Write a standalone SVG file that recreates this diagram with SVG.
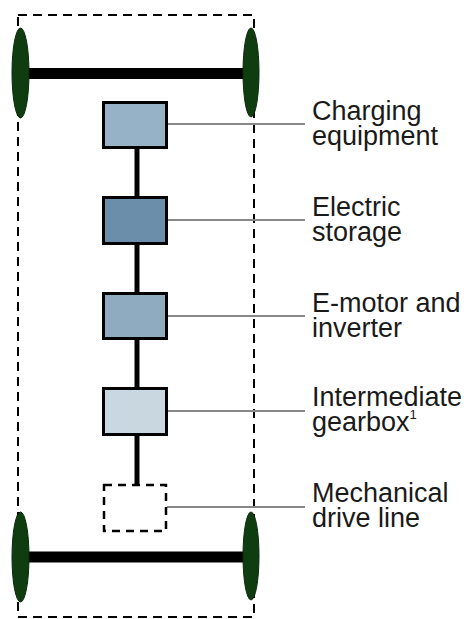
<svg xmlns="http://www.w3.org/2000/svg" width="468" height="619" viewBox="0 0 468 619">
<style>
.frame{fill:none;stroke:#000;stroke-width:2;stroke-dasharray:9,6}
.wheel{fill:#0f3d10;stroke:#0a2a0a;stroke-width:1}
.axle{stroke:#000;stroke-width:11}
.box{stroke:#000;stroke-width:3}
.dbox{fill:#fff;stroke:#000;stroke-width:2.5;stroke-dasharray:8,6}
.shaft{stroke:#000;stroke-width:5}
.leader{stroke:#888;stroke-width:2}
.lbl{font-family:"Liberation Sans",Arial,sans-serif;font-size:27px;fill:#1a1a1a}
</style>
<rect class="frame" x="18" y="15" width="236" height="602"/>
<g id="connectors">
<line class="shaft" x1="137" y1="148" x2="137" y2="196"/>
<line class="shaft" x1="137" y1="244" x2="137" y2="293"/>
<line class="shaft" x1="137" y1="339" x2="137" y2="388"/>
<line class="shaft" x1="137" y1="435" x2="137" y2="484"/>
<line class="leader" x1="167" y1="124" x2="305" y2="124"/>
<line class="leader" x1="167" y1="220" x2="305" y2="220"/>
<line class="leader" x1="167" y1="316" x2="305" y2="316"/>
<line class="leader" x1="167" y1="411" x2="305" y2="411"/>
<line class="leader" x1="167" y1="507" x2="305" y2="507"/>
</g>
<g id="front-axle">
<line class="axle" x1="28" y1="73.5" x2="250" y2="73.5"/>
<ellipse class="wheel" cx="20.5" cy="73" rx="8.5" ry="45"/>
<ellipse class="wheel" cx="251" cy="72.5" rx="8" ry="44.5"/>
</g>
<g id="rear-axle">
<line class="axle" x1="28" y1="557" x2="250" y2="557"/>
<ellipse class="wheel" cx="20.5" cy="557" rx="8.5" ry="45"/>
<ellipse class="wheel" cx="251" cy="556" rx="8" ry="44"/>
</g>
<g id="charging">
<rect class="box" x="103.5" y="102.5" width="63" height="45" fill="#95b2c6"/>
<text class="lbl"><tspan x="312" y="120">Charging</tspan><tspan x="312" y="145">equipment</tspan></text>
</g>
<g id="storage">
<rect class="box" x="103.5" y="197.5" width="63" height="46" fill="#6b8faa"/>
<text class="lbl"><tspan x="312" y="216">Electric</tspan><tspan x="312" y="241">storage</tspan></text>
</g>
<g id="emotor">
<rect class="box" x="103.5" y="293.5" width="63" height="45" fill="#8eabbf"/>
<text class="lbl"><tspan x="312" y="312">E-motor and</tspan><tspan x="312" y="337">inverter</tspan></text>
</g>
<g id="gearbox">
<rect class="box" x="103.5" y="388.5" width="63" height="46" fill="#c9d7e0"/>
<text class="lbl"><tspan x="312" y="406">Intermediate</tspan><tspan x="312" y="431">gearbox</tspan><tspan font-size="13" dy="-12">1</tspan></text>
</g>
<g id="driveline">
<rect class="dbox" x="104" y="485" width="62" height="46"/>
<text class="lbl"><tspan x="312" y="502">Mechanical</tspan><tspan x="312" y="527">drive line</tspan></text>
</g>
</svg>
